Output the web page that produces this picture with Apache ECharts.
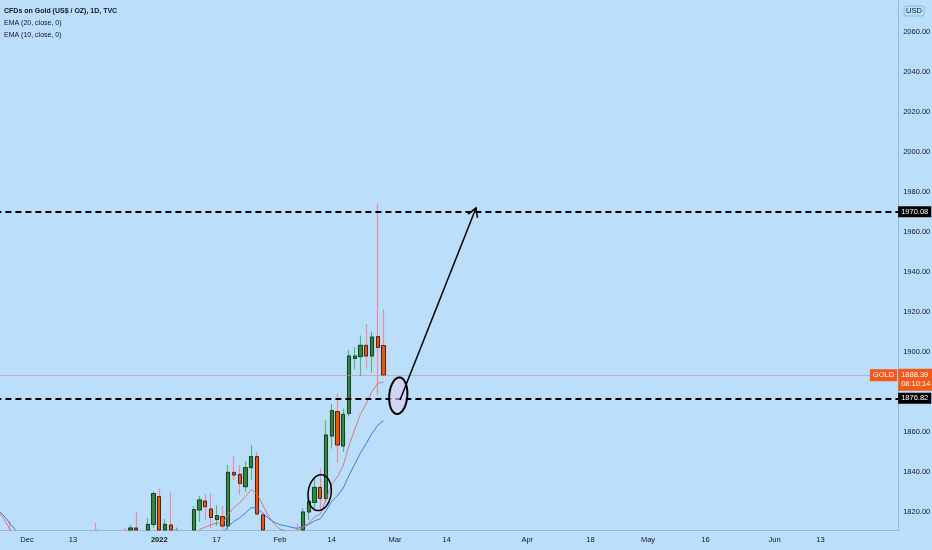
<!DOCTYPE html>
<html>
<head>
<meta charset="utf-8">
<script src="https://cdn.jsdelivr.net/npm/echarts@6/dist/echarts.min.js"></script>
<style>
html,body{margin:0;padding:0;background:#BBDEFB;}
#chart{width:932px;height:550px;}
</style>
</head>
<body>
<div id="chart"></div>
<script>
// ---- data (daily candles, trading-day positions starting 2021-11-24) ----
const opens  = [1788,1789,1788,1792,1785,1774,1781,1768,1783,1779,1785,1783,1775,1782,1786,1771,1777,1805,1798,1791,1789,1803,1809,1806,1812,1790,1805,1813.8,1827.7,1801,1813.5,1810,1789,1797,1801,1821,1825.5,1821.5,1816.3,1817.7,1813,1839.8,1838.8,1832.7,1842.2,1847.7,1818.5,1797,1791,1797,1801,1808,1805,1807,1820,1824.8,1832.3,1826.8,1858,1870.2,1853,1869.3,1896.8,1897.7,1903.3,1898,1907.7,1903.2];
const highs  = [1795,1793,1815.5,1808,1808,1790,1786,1786,1786,1793,1792,1789,1791,1791,1788,1785,1808,1814.5,1800,1795,1806,1810,1812,1813.5,1820,1808,1817,1830.2,1831.8,1816.5,1829.7,1812.2,1800,1804,1823,1828,1829,1829.5,1823.5,1823,1843.5,1847.7,1843.5,1845.2,1853.5,1850,1819.5,1801,1802,1807,1810,1809,1814.3,1821.8,1828.2,1836.7,1841.8,1865.7,1874,1879.3,1871.8,1901,1902.3,1908.2,1914,1910.2,1974.3,1921.5];
const lows   = [1778,1785,1782,1780,1762,1769,1762,1762,1774,1776,1775,1772,1770,1781,1768,1753,1776,1794,1783,1782,1786,1800,1804,1802,1788,1789,1795,1812,1799,1799,1807,1782,1782,1790,1800,1815,1816,1812,1813,1806,1811,1836,1828.5,1830.2,1836,1818.5,1788,1780,1786,1792,1796,1788,1791,1801,1816,1822,1821.5,1825,1851.8,1844.7,1850,1867.7,1891.3,1888,1891.8,1889.7,1878.5,1888];
const closes = [1789,1790,1792,1785,1774,1781,1768,1783,1779,1785,1783,1775,1782,1786,1771,1777,1805,1798,1791,1789,1803,1808,1806,1812,1790,1805,1813.8,1829.2,1801,1813.8,1810,1789,1797,1801,1821.2,1826,1822.7,1817.3,1818.2,1813,1839.8,1838.5,1834.3,1842.2,1847.7,1819,1797,1791,1797,1801,1808,1805,1807,1820,1825.3,1832.3,1826.8,1858.5,1870.7,1853.5,1868.8,1898,1898,1903.3,1898,1907.5,1902.3,1888.39];
const ema20  = [1821,1818,1814.5,1811,1807.5,1805,1801.5,1799.5,1797.5,1796,1795,1793.5,1792.5,1792,1790.5,1789.5,1790,1790.5,1790.5,1790.5,1791.5,1793,1794,1795.5,1795,1796,1797.5,1800,1800,1801.5,1802.5,1801.5,1801,1801.5,1803.5,1805.5,1806.5,1807.5,1808.5,1809.5,1812.9,1815.3,1817.1,1819.5,1822.2,1821.9,1819.5,1816.8,1814.9,1813.6,1813.1,1812.3,1811.8,1812.6,1813.8,1815.6,1816.6,1820.6,1825.4,1828.1,1832,1838.3,1843.9,1849.6,1854.2,1859.3,1863.4,1865.7];
const ema10  = [1820.5,1816.5,1811.5,1806,1800,1796,1791,1789,1787,1786,1785,1783,1783,1783,1781,1780,1783,1785,1786,1786,1788,1791,1793,1796,1795,1797,1800,1806,1805,1807,1808,1804,1803,1803,1808,1811.2,1812.5,1813.6,1814.5,1814.3,1818.8,1822.3,1824.5,1827.7,1831.3,1829.1,1823.5,1818,1814,1811.5,1810.5,1809.8,1810.3,1812.5,1814.5,1817.5,1819,1826,1834,1837.6,1843.3,1853.2,1861.3,1868.9,1874.2,1880.3,1884.3,1885];
const dateTickLabels = {
  '2021-12-01':'Dec','2021-12-13':'13','2022-01-03':'2022','2022-01-17':'17',
  '2022-02-01':'Feb','2022-02-14':'14','2022-03-01':'Mar','2022-03-14':'14',
  '2022-04-01':'Apr','2022-04-18':'18','2022-05-02':'May','2022-05-16':'16',
  '2022-06-01':'Jun','2022-06-13':'13'
};
const priceTicks = [1820,1840,1860,1900,1920,1940,1960,1980,2000,2020,2040,2060];
const targetLevel = 1970.08;
const supportLevel = 1876.82;
const lastPrice = 1888.39;
const countdown = '08:10:14';
// annotations in [category position, price]
const ellipseCenters = [[69.57,1878.15],[55.9,1829.65]];
const ellipseRadii   = [[1.57,9.15],[2.0,9.0]];   // [bars, price units]
const arrowFrom = [69.87,1876.0];
const arrowTo   = [83.09,1972.0];

// trading-day categories (weekdays)
const categories = [];
(function(){
  const d = new Date(Date.UTC(2021,10,24));
  while (categories.length < 157) {
    const wd = d.getUTCDay();
    if (wd !== 0 && wd !== 6) categories.push(d.toISOString().slice(0,10));
    d.setUTCDate(d.getUTCDate()+1);
  }
})();

const Y_MIN = 1811, Y_MAX = 2076;
const FONT = '"Liberation Sans Narrow", "Liberation Sans", Arial, sans-serif';
const TXT = '#131722';
const AXIS = 'rgba(110,140,170,0.45)';
const ORANGE = '#F25A1C';

// candles are cut at the bottom of the pane (the candlestick series only hides fully-outside boxes)
const cl = v => Math.max(v, Y_MIN);
const wickData = opens.map((o,i)=> highs[i] < Y_MIN ? '-' : [cl(o), cl(closes[i]), cl(lows[i]), highs[i]]);
const bodyData = opens.map((o,i)=>{
  const c = closes[i], top = Math.max(o,c);
  if (top < Y_MIN) return '-';
  return [cl(o), cl(c), cl(Math.min(o,c)), top];
});

function px(api, x, y){
  const b = Math.floor(x), f = x - b;
  const p = api.coord([b, y]);
  const w = api.size([1,0])[0];
  return [p[0] + f*w, p[1]];
}

const chart = echarts.init(document.getElementById('chart'), null, {renderer:'canvas'});
const GRID_RIGHT = 33.875;
chart.setOption({
  animation:false,
  backgroundColor:'#BBDEFB',
  grid:{left:-4.625, right:GRID_RIGHT, top:0, bottom:20, containLabel:false, outerBoundsMode:'none'},
  xAxis:{
    type:'category', data:categories, boundaryGap:true,
    axisLine:{show:true, lineStyle:{color:AXIS}},
    axisTick:{show:false}, splitLine:{show:false},
    axisLabel:{
      interval:(i,v)=> (v in dateTickLabels),
      formatter:v=>{ const t = dateTickLabels[v]||''; return t==='2022' ? '{b|'+t+'}' : t; },
      color:TXT, fontSize:7.5, fontFamily:FONT, margin:6,
      rich:{b:{fontWeight:'bold', fontSize:7.5, fontFamily:FONT, color:TXT}}
    }
  },
  yAxis:{
    type:'value', position:'right', min:Y_MIN, max:Y_MAX, scale:true,
    axisLine:{show:true, lineStyle:{color:AXIS}},
    axisTick:{show:false}, splitLine:{show:false},
    axisLabel:{customValues:priceTicks, formatter:v=>Number(v).toFixed(2), color:TXT, fontSize:7.5, fontFamily:FONT, margin:5}
  },
  series:[
    {
      type:'candlestick', name:'wicks', data:wickData, barWidth:3.6, z:2, clip:true, silent:true,
      itemStyle:{color:'rgba(0,0,0,0)', color0:'rgba(0,0,0,0)', borderColor:'#5DB574', borderColor0:'#EC8CA2', borderWidth:1.2}
    },
    {
      type:'candlestick', name:'bodies', data:bodyData, barWidth:3.6, z:3, clip:true, silent:true,
      itemStyle:{color:'#2E8B3A', color0:'#F0550F', borderColor:'#1F3D25', borderColor0:'#4A2616', borderWidth:1},
      markLine:{
        silent:true, symbol:['none','none'], animation:false,
        data:[
          {yAxis:lastPrice, lineStyle:{type:'solid', width:1, color:'rgba(200,140,150,0.6)'},
           label:{show:true, position:'end', distance:0, formatter:'{p|'+lastPrice.toFixed(2)+'}\n{p|'+countdown+'}',
                  backgroundColor:ORANGE, padding:[2,3,2,3], offset:[0,4.5],
                  rich:{p:{color:'#fff', fontSize:7.5, fontFamily:FONT, lineHeight:9}}}},
          {yAxis:targetLevel, lineStyle:{type:[6,4], width:2, color:'#000'},
           label:{show:true, position:'end', distance:0, formatter:targetLevel.toFixed(2), color:'#fff',
                  backgroundColor:'#000', padding:[2,3,1,3], fontSize:7.5, fontFamily:FONT}},
          {yAxis:supportLevel, lineStyle:{type:[6,4], width:2, color:'#000'},
           label:{show:true, position:'end', distance:0, formatter:supportLevel.toFixed(2), color:'#fff',
                  backgroundColor:'#000', padding:[2,3,1,3], fontSize:7.5, fontFamily:FONT}}
        ]
      }
    },
    {type:'line', name:'EMA20', data:ema20, showSymbol:false, symbol:'none', z:4, clip:true, silent:true,
     lineStyle:{width:1, color:'#3F7BD8'}},
    {type:'line', name:'EMA10', data:ema10, showSymbol:false, symbol:'none', z:4, clip:true, silent:true,
     lineStyle:{width:1, color:'rgba(226,100,100,0.85)'}},
    {
      type:'custom', name:'ellipses', z:6, silent:true,
      data:ellipseCenters,
      renderItem:(params, api)=>{
        const i = params.dataIndex;
        const c = px(api, ellipseCenters[i][0], ellipseCenters[i][1]);
        const bw = api.size([1,0])[0];
        const rx = ellipseRadii[i][0]*bw;
        const top = px(api, ellipseCenters[i][0], ellipseCenters[i][1] + ellipseRadii[i][1]);
        const ry = c[1] - top[1];
        const rot = i === 0 ? 0.08 : 0.14;
        const pts = [];
        for (let k=0;k<72;k++){
          const a = k/72*Math.PI*2;
          const lx = rx*Math.cos(a), ly = ry*Math.sin(a);
          pts.push([c[0] + lx*Math.cos(rot) - ly*Math.sin(rot), c[1] + lx*Math.sin(rot) + ly*Math.cos(rot)]);
        }
        return {type:'polygon', shape:{points:pts},
          style:{fill: i===0 ? 'rgba(218,208,240,0.6)' : 'rgba(0,0,0,0)', stroke:'#000', lineWidth: i===0 ? 2 : 1.5}};
      }
    },
    {
      type:'custom', name:'arrow', z:6, silent:true,
      data:[arrowTo],
      renderItem:(params, api)=>{
        const s = px(api, arrowFrom[0], arrowFrom[1]);
        const e = px(api, arrowTo[0], arrowTo[1]);
        const dx = s[0]-e[0], dy = s[1]-e[1];
        const L = Math.sqrt(dx*dx+dy*dy), ux = dx/L, uy = dy/L;
        const len = 10, ang = Math.PI/6;
        const b1 = [e[0] + len*(ux*Math.cos(ang) - uy*Math.sin(ang)), e[1] + len*(ux*Math.sin(ang) + uy*Math.cos(ang))];
        const b2 = [e[0] + len*(ux*Math.cos(-ang) - uy*Math.sin(-ang)), e[1] + len*(ux*Math.sin(-ang) + uy*Math.cos(-ang))];
        return {type:'group', children:[
          {type:'line', shape:{x1:s[0], y1:s[1], x2:e[0], y2:e[1]}, style:{stroke:'#000', lineWidth:1.5}},
          {type:'polyline', shape:{points:[b1, e, b2]}, style:{stroke:'#000', lineWidth:1.5, fill:null}}
        ]};
      }
    }
  ],
  graphic:[
    {type:'text', x:4, y:11, style:{text:'CFDs on Gold (US$ / OZ), 1D, TVC', fill:TXT, font:'bold 7px '+FONT, verticalAlign:'middle'}},
    {type:'text', x:4, y:23.5, style:{text:'EMA (20, close, 0)', fill:TXT, font:'7px '+FONT, verticalAlign:'middle'}},
    {type:'text', x:4, y:35, style:{text:'EMA (10, close, 0)', fill:TXT, font:'7px '+FONT, verticalAlign:'middle'}},
    {type:'text', x:914, y:11, style:{text:'USD', fill:TXT, font:'7.5px '+FONT, align:'center', verticalAlign:'middle',
      borderColor:'rgba(120,160,200,0.6)', borderWidth:1, borderRadius:2, padding:[1,2,1,2]}}
  ]
});

const yLast = chart.convertToPixel({yAxisIndex:0}, lastPrice);
const xRight = 932 - GRID_RIGHT;
chart.setOption({
  graphic:[
    {type:'text', id:'gold', x:xRight-1, y:yLast, z:10,
     style:{text:'GOLD', fill:'#fff', font:'7.5px '+FONT, align:'right', verticalAlign:'middle',
            backgroundColor:ORANGE, padding:[2,3,2,3]}}
  ]
});
</script>
</body>
</html>
